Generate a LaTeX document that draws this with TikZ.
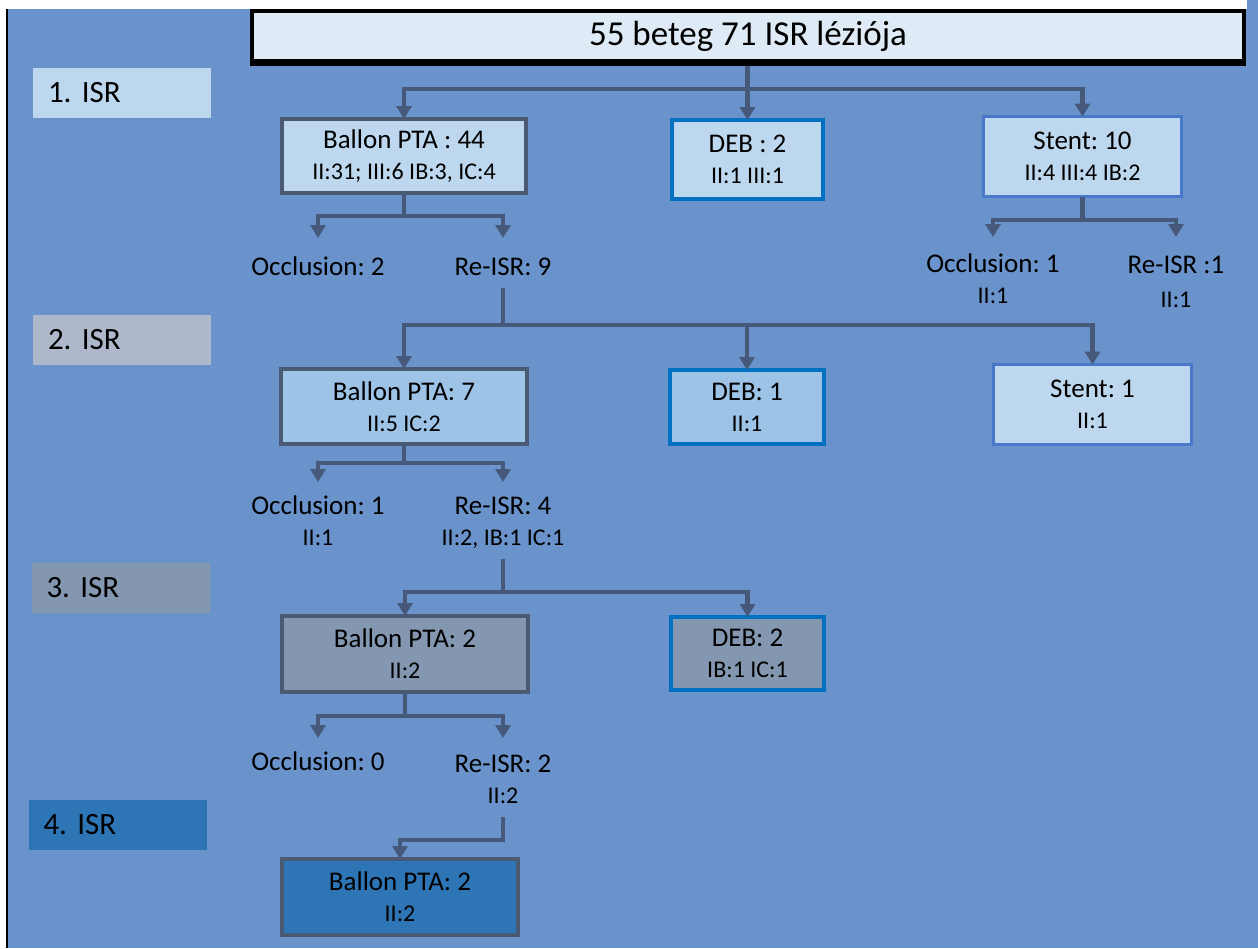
\documentclass[tikz,border=0pt]{standalone}
\usepackage{fontspec}
\setmainfont{Carlito}
\frenchspacing
\usetikzlibrary{arrows.meta}
\definecolor{bgc}{HTML}{6A93CC}
\definecolor{titlec}{HTML}{DEEAF6}
\definecolor{cA}{HTML}{BDD7EE}
\definecolor{cB}{HTML}{9DC3E6}
\definecolor{cC}{HTML}{8497B0}
\definecolor{cD}{HTML}{2E75B6}
\definecolor{lvB}{HTML}{ADB9CA}
\definecolor{grayb}{HTML}{4A5A72}
\definecolor{debb}{HTML}{0070C0}
\definecolor{stentb}{HTML}{4A78C8}
\definecolor{arrc}{HTML}{46597A}
\newcommand{\fxa}{\fontsize{27}{31}\selectfont}
\newcommand{\fxb}{\fontsize{24}{31}\selectfont}
\begin{document}
\begin{tikzpicture}[x=1pt,y=-1pt,
  conn/.style={draw=arrc, line width=4.5pt, line join=miter, -{Triangle[width=15pt,length=13pt]}},
  box/.style={line width=4pt, align=center, inner sep=0pt, outer sep=0pt, font=\fxa},
  pta/.style={box, draw=grayb},
  debbox/.style={box, draw=debb},
  stentbox/.style={box, draw=stentb, line width=3pt},
  lvl/.style={minimum width=178pt, minimum height=50pt, text width=148pt, inner xsep=15pt, inner ysep=0pt, align=left, outer sep=0pt, font=\fontsize{31}{36}\selectfont},
  lab/.style={anchor=base, align=center, inner sep=0pt, font=\fxa}]
\useasboundingbox (0,0) rectangle (1258,948);
\fill[white] (0,0) rectangle (1258,948);
\fill[bgc] (8,9) rectangle (1258,948);
\fill[bgc] (1247,0) rectangle (1258,9);
\draw[black, line width=2pt] (7,9) -- (7,948);

% title
\node[draw=black, line width=3.5pt, fill=titlec, minimum width=992pt, minimum height=50pt, inner sep=0pt, outer sep=0pt, font=\fontsize{35}{40}\selectfont] (title) at (748,36) {55 beteg 71 ISR léziója};

% level labels
\node[lvl, fill=cA] (L1) at (122,93) {1. ISR};
\node[lvl, fill=lvB] (L2) at (122,340) {2. ISR};
\node[lvl, fill=cC] (L3) at (120.5,587.5) {3. ISR};
\node[lvl, fill=cD] (L4) at (117.5,825) {4. ISR};

% boxes
\node[pta, fill=cA, minimum width=244pt, minimum height=74pt] (b1) at (404,156) {Ballon PTA : 44\\{\fxb II:31; III:6 IB:3, IC:4}};
\node[debbox, fill=cA, minimum width=151pt, minimum height=79pt] (d1) at (747.5,159.5) {DEB : 2\\{\fxb II:1 III:1}};
\node[stentbox, fill=cA, minimum width=198pt, minimum height=80pt] (s1) at (1082.5,156.5) {Stent: 10\\{\fxb II:4 III:4 IB:2}};

\node[pta, fill=cB, minimum width=246pt, minimum height=75pt] (b2) at (404,406.5) {Ballon PTA: 7\\{\fxb II:5 IC:2}};
\node[debbox, fill=cB, minimum width=154pt, minimum height=74pt] (d2) at (747,407) {DEB: 1\\{\fxb II:1}};
\node[stentbox, fill=cA, minimum width=198pt, minimum height=80pt] (s2) at (1092.5,404.5) {Stent: 1\\{\fxb II:1}};

\node[pta, fill=cC, minimum width=246pt, minimum height=76pt] (b3) at (405,654) {Ballon PTA: 2\\{\fxb II:2}};
\node[debbox, fill=cC, minimum width=153pt, minimum height=73pt] (d3) at (747.5,653.5) {DEB: 2\\{\fxb IB:1 IC:1}};

\node[pta, fill=cD, minimum width=236pt, minimum height=76pt] (b4) at (400,897) {Ballon PTA: 2\\{\fxb II:2}};

% outcome labels (base anchor = baseline of last line)
\node[lab] (o1) at (318,275) {Occlusion: 2};
\node[lab] (r1) at (503,275) {Re-ISR: 9};
\node[lab] (o1s) at (993,303) {Occlusion: 1\\{\fxb II:1}};
\node[lab] (r1s) at (1176,307) {Re-ISR :1\\[3pt]{\fxb II:1}};
\node[lab] (o2) at (318,545) {Occlusion: 1\\{\fxb II:1}};
\node[lab] (r2) at (503,545) {Re-ISR: 4\\{\fxb II:2, IB:1 IC:1}};
\node[lab] (o3) at (318,770) {Occlusion: 0};
\node[lab] (r3) at (503,803) {Re-ISR: 2\\{\fxb II:2}};

% helper coordinates
\coordinate (h0) at (0,89);
\coordinate (h1) at (0,216);
\coordinate (hs) at (0,220);
\coordinate (h2) at (0,325);
\coordinate (h3) at (0,463);
\coordinate (h4) at (0,592);
\coordinate (h5) at (0,716);
\coordinate (h6) at (0,840);
\coordinate (o1t) at (318,238);
\coordinate (r1t) at (503,238);
\coordinate (o1st) at (993,237);
\coordinate (r1st) at (1176,237);
\coordinate (o2t) at (318,482);
\coordinate (r2t) at (503,482);
\coordinate (o3t) at (318,738);
\coordinate (r3t) at (503,738);
\coordinate (r1b) at (503,288);
\coordinate (r2b) at (503,559);
\coordinate (r3b) at (503,817);

% connectors
\draw[conn] (title.south -| d1.north) -- (d1.north);
\draw[conn] (d1.north |- h0) -| (b1.north);
\draw[conn] (d1.north |- h0) -| (s1.north);

\draw[conn] (b1.south) -- (b1.south |- h1) -| (o1t);
\draw[conn] (b1.south |- h1) -| (r1t);
\draw[conn] (s1.south) -- (s1.south |- hs) -| (o1st);
\draw[conn] (s1.south |- hs) -| (r1st);

\draw[conn] (r1b) -- (r1b |- h2) -| (b2.north);
\draw[conn] (r1b |- h2) -| (d2.north);
\draw[conn] (r1b |- h2) -| (s2.north);

\draw[conn] (b2.south) -- (b2.south |- h3) -| (o2t);
\draw[conn] (b2.south |- h3) -| (r2t);

\draw[conn] (r2b) -- (r2b |- h4) -| (b3.north);
\draw[conn] (r2b |- h4) -| (d3.north);

\draw[conn] (b3.south) -- (b3.south |- h5) -| (o3t);
\draw[conn] (b3.south |- h5) -| (r3t);

\draw[conn] (r3b) -- (r3b |- h6) -| (b4.north);

% title shadow edge
\fill[black] ([shift={(-2,0)}]title.south west) rectangle ([shift={(2,5)}]title.south east);
\end{tikzpicture}
\end{document}
